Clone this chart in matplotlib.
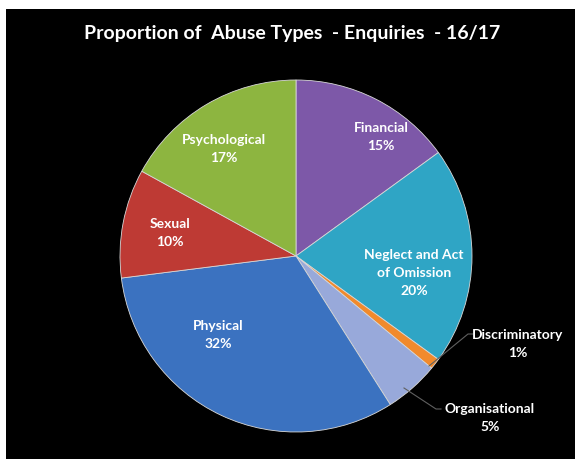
import matplotlib.pyplot as plt

# data, clockwise from 12 o'clock
categories = ["Financial", "Neglect and Act\nof Omission", "Discriminatory",
              "Organisational", "Physical", "Sexual", "Psychological"]
shares = [15, 20, 1, 5, 32, 10, 17]
colors = ["#7D58A8", "#2FA5C5", "#F18A2C", "#98A9DA", "#3B72C0", "#BE3A34", "#8DB540"]

# label positions in pixels (x, y from top) -- layout only
label_pos = [(381, 137), (414, 273), (518, 344), (490, 418), (218, 335), (170, 233), (224, 149)]
leaders = {2: [(429, 367), (468, 335), (473, 335)],
           3: [(404, 389), (436, 410), (441, 410)]}

W, H = 575, 460
fig = plt.figure(figsize=(W / 100, H / 100), dpi=100, facecolor="white")
ax = fig.add_axes([6 / W, 0, (W - 6) / W, (H - 10) / H])
ax.add_patch(plt.Rectangle((6, 0), W - 6, H - 10, color="black", zorder=0))

cx, cy, r = 296, H - 257, 176
ax.pie(shares, colors=colors, startangle=90, counterclock=False,
       center=(cx, cy), radius=r, frame=True,
       wedgeprops={"edgecolor": "#d8d8d8", "linewidth": 0.6})
ax.set_xlim(6, W)
ax.set_ylim(0, H - 10)
ax.set_aspect("equal")
ax.axis("off")

font = ["Lato", "DejaVu Sans"]
for i, (name, pct) in enumerate(zip(categories, shares)):
    x, y = label_pos[i]
    ax.text(x, H - y, f"{name}\n{pct}%", ha="center", va="center",
            color="white", fontsize=10, fontweight="bold", family=font,
            linespacing=1.6)
for pts in leaders.values():
    ax.plot([p[0] for p in pts], [H - p[1] for p in pts], color="#606060", lw=0.8)

ax.text(292, H - 33, "Proportion of  Abuse Types  - Enquiries  - 16/17",
        ha="center", va="center", color="white", fontsize=14,
        fontweight="bold", family=font)

fig.savefig("out.png", dpi=100, facecolor="white")
